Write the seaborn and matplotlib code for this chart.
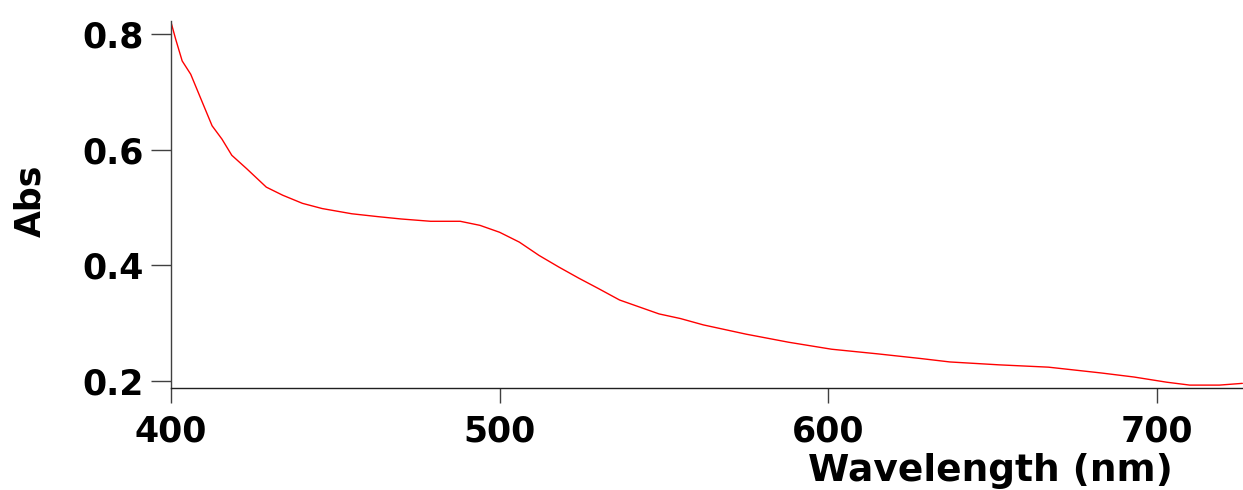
import matplotlib
matplotlib.use("Agg")
import matplotlib.pyplot as plt
import seaborn as sns
import pandas as pd

wavelength = [400, 401.4, 403.4, 406, 409.5, 412.5, 415.5, 418.5, 423, 429, 434, 440, 446,
              455, 463, 470, 479, 488, 494, 500, 506, 512, 518, 524, 530, 536.5, 542.5,
              548.5, 555, 562, 575, 588, 601, 615, 628, 637, 652, 667, 683, 693, 703, 710,
              719, 726]
absorbance = [0.820, 0.791, 0.753, 0.730, 0.682, 0.641, 0.618, 0.590, 0.567, 0.535, 0.521,
              0.507, 0.498, 0.489, 0.484, 0.480, 0.476, 0.476, 0.469, 0.457, 0.440, 0.417,
              0.397, 0.378, 0.360, 0.340, 0.328, 0.316, 0.308, 0.297, 0.281, 0.267, 0.255,
              0.247, 0.239, 0.233, 0.228, 0.224, 0.214, 0.207, 0.198, 0.193, 0.193, 0.196]
x_ticks = [400, 500, 600, 700]
y_ticks = [0.2, 0.4, 0.6, 0.8]
y_tick_labels = ["0.2", "0.4", "0.6", "0.8"]

sns.set_style("white")
plt.rcParams["font.family"] = ["DejaVu Sans"]
plt.rcParams["text.color"] = "black"
plt.rcParams["axes.labelcolor"] = "black"
plt.rcParams["xtick.color"] = "black"
plt.rcParams["ytick.color"] = "black"

df = pd.DataFrame({"Wavelength": wavelength, "Abs": absorbance})

W, H = 1243, 490
fig = plt.figure(figsize=(W / 100, H / 100), dpi=100)
ax = fig.add_axes([171 / W, 1 - 388 / H, (W - 171) / W, (388 - 21) / H])

sns.lineplot(data=df, x="Wavelength", y="Abs", ax=ax, color="#ff0000", linewidth=1.0)

ax.set_xlim(400, 726.2)
ax.set_ylim(0.188, 0.822)
ax.set_xticks(x_ticks)
ax.set_xticklabels([str(t) for t in x_ticks])
ax.set_yticks(y_ticks)
ax.set_yticklabels(y_tick_labels)

for s in ["top", "right"]:
    ax.spines[s].set_visible(False)
ax.spines["left"].set_color("#404040")
ax.spines["bottom"].set_color("#202020")
ax.spines["left"].set_linewidth(1.0)
ax.spines["bottom"].set_linewidth(1.0)

ax.tick_params(axis="y", left=True, direction="out", length=14.4, width=1.0,
               color="#404040", labelcolor="black", pad=5, labelsize=25)
ax.tick_params(axis="x", bottom=True, direction="out", length=11, width=1.0,
               color="#404040", labelcolor="black", pad=8, labelsize=25)
for lab in ax.get_xticklabels() + ax.get_yticklabels():
    lab.set_fontweight("bold")

ax.set_xlabel("Wavelength (nm)", fontsize=27, fontweight="bold", color="black")
ax.set_ylabel("Abs", fontsize=25, fontweight="bold", color="black")
ax.xaxis.set_label_coords(0.764, -0.178)
ax.yaxis.set_label_coords(-0.115, 0.51)

fig.savefig("out.png", dpi=100, facecolor="white")
